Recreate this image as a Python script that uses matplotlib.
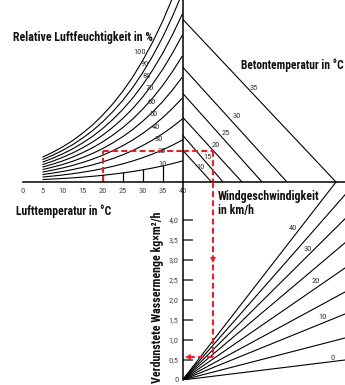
import numpy as np
import matplotlib
matplotlib.use("Agg")
import matplotlib.pyplot as plt
from matplotlib import font_manager as fm
from matplotlib.font_manager import FontProperties

# ---------------- data ----------------
luft_temp = [5, 7.5, 10, 12.5, 15, 17.5, 20, 22.5, 25, 27.5, 30, 32.5, 35, 37.5, 40]
saett_druck = [0.87, 1.04, 1.23, 1.45, 1.71, 2.00, 2.34, 2.73, 3.17, 3.67, 4.25, 4.90, 5.63, 6.46, 7.38]
rel_feuchte = [10, 20, 30, 40, 50, 60, 70, 80, 90, 100]
luft_ticks = [0, 5, 10, 15, 20, 25, 30, 35, 40]
marker_temps = [20, 25, 30, 35]

beton_temp = [10, 15, 20, 25, 30, 35]
beton_druck = [1.12, 1.65, 2.28, 3.12, 4.04, 5.72]
beton_diff = [1.16, 1.62, 2.38, 3.18, 4.18, 6.14]

wind = [0, 5, 10, 15, 20, 25, 30, 35, 40]
wind_diff_end = 6.5
verdunst_end = [0.50, 1.05, 1.65, 2.20, 2.80, 3.43, 4.03, 4.63, 5.24]
wind_beschriftet = [0, 10, 20, 30, 40]

verdunst_ticks = [0, 0.5, 1.0, 1.5, 2.0, 2.5, 3.0, 3.5, 4.0]
verdunst_labels = ["0", "0,5", "1,0", "1,5", "2,0", "2,5", "3,0", "3,5", "4,0"]

bsp_luft = 20
bsp_druck = 1.10
bsp_diff = 1.23
bsp_verdunst = 0.58

# ---------------- layout (text placement) ----------------
rh_label_pos = [(35.1, 0.63), (34.9, 1.09), (34.1, 1.51), (33.4, 1.93), (32.9, 2.39),
                (32.4, 2.81), (31.9, 3.30), (31.1, 3.72), (30.6, 4.14), (29.4, 4.56)]
beton_label_pos = [(0.74, 0.53), (0.98, 0.88), (1.34, 1.30), (1.74, 1.72), (2.18, 2.32), (2.86, 3.30)]
wind_label_pos = [(6.02, 0.55), (5.62, 1.58), (5.34, 2.48), (5.02, 3.28), (4.42, 3.80)]


def find_font(bold):
    best = None
    for f in fm.fontManager.ttflist:
        if f.style != "normal":
            continue
        w = f.weight
        if isinstance(w, str):
            w = {"bold": 700, "normal": 400, "regular": 400}.get(w.lower(), 400)
        if bold and w != 700:
            continue
        if not bold and w != 400:
            continue
        name = f.name
        st = str(f.stretch).lower()
        narrow = ("narrow" in name.lower() or "condensed" in name.lower()
                  or "condensed" in st or "narrow" in f.fname.lower()
                  or "condensed" in f.fname.lower())
        if not narrow or "semi" in f.fname.lower() or "extra" in f.fname.lower():
            continue
        rank = 9
        if "Liberation Sans Narrow" in name:
            rank = 0
        elif "Roboto" in name:
            rank = 1
        elif "Noto Sans" in name and "CJK" not in name:
            rank = 2
        elif "DejaVu" in name:
            rank = 3
        elif "Open Sans" in name:
            rank = 4
        if best is None or rank < best[0]:
            best = (rank, f.fname)
    return best[1] if best else None


bold_path = find_font(True)
reg_path = find_font(False)
fp_bold = FontProperties(fname=bold_path) if bold_path else FontProperties(family="DejaVu Sans", weight="bold")
fp_reg = FontProperties(fname=reg_path) if reg_path else FontProperties(family="DejaVu Sans")

W, H = 345, 385
fig = plt.figure(figsize=(W / 100, H / 100), dpi=100)
plt.rcParams["lines.scale_dashes"] = False

px_per_T = 4.0
px_per_p = 28.5
px_per_d = 25.0
px_per_E = 40.0
x_axis_px = 182.5
h_axis_px = 182.0
e0_px = 380.0
lab_size = 6.0


def fr(l, t, w, h):
    return [l / W, 1 - (t + h) / H, w / W, h / H]


ax_ul = fig.add_axes(fr(x_axis_px - 40 * px_per_T, 0, 40 * px_per_T, h_axis_px))
ax_ur = fig.add_axes(fr(x_axis_px, 0, W - x_axis_px, h_axis_px))
ax_lo = fig.add_axes(fr(x_axis_px, h_axis_px, W - x_axis_px, e0_px - h_axis_px))

ax_ul.set_xlim(0, 40)
ax_ul.set_ylim(0, h_axis_px / px_per_p)
ax_ur.set_xlim(0, (W - x_axis_px) / px_per_d)
ax_ur.set_ylim(0, h_axis_px / px_per_p)
ax_lo.set_xlim(0, (W - x_axis_px) / px_per_d)
ax_lo.set_ylim(0, (e0_px - h_axis_px) / px_per_E)

for ax in (ax_ul, ax_ur, ax_lo):
    ax.patch.set_alpha(0)
    for s in ax.spines.values():
        s.set_visible(False)
    ax.set_xticks([])
    ax.set_yticks([])

axis_lw = 1.1
line_lw = 0.8
ax_ul.spines["bottom"].set_visible(True)
ax_ul.spines["bottom"].set_linewidth(axis_lw)
ax_ur.spines["bottom"].set_visible(True)
ax_ur.spines["bottom"].set_linewidth(axis_lw)
ax_ur.spines["left"].set_visible(True)
ax_ur.spines["left"].set_linewidth(axis_lw)
ax_lo.spines["left"].set_visible(True)
ax_lo.spines["left"].set_linewidth(axis_lw)

# upper-left: relative humidity curves
T = np.array(luft_temp)
ps = np.array(saett_druck)
for rh in rel_feuchte:
    ax_ul.plot(T, ps * rh / 100.0, color="black", lw=line_lw, solid_capstyle="butt")
for rh, (lx, ly) in zip(rel_feuchte, rh_label_pos):
    ax_ul.text(lx, ly, str(rh), fontproperties=fp_reg, fontsize=lab_size, color="#333333",
               ha="center", va="center")
for mt in marker_temps:
    ax_ul.plot([mt, mt], [0, np.interp(mt, T, ps) * rel_feuchte[0] / 100.0], color="black", lw=0.9)
ax_ul.set_xticks(luft_ticks)
ax_ul.set_xticklabels([str(v) for v in luft_ticks], fontproperties=fp_reg, fontsize=lab_size, color="#444444")
ax_ul.tick_params(axis="x", length=0, pad=4.5)

# upper-right: concrete temperature lines
for bt, y0, x0 in zip(beton_temp, beton_druck, beton_diff):
    ax_ur.plot([0, x0], [y0, 0], color="black", lw=line_lw)
for bt, (lx, ly) in zip(beton_temp, beton_label_pos):
    ax_ur.text(lx, ly, str(bt), fontproperties=fp_reg, fontsize=lab_size, color="#333333",
               ha="center", va="center")

# lower: wind lines
for v, e in zip(wind, verdunst_end):
    ax_lo.plot([0, wind_diff_end], [0, e], color="black", lw=line_lw)
for v, (lx, ly) in zip(wind_beschriftet, wind_label_pos):
    ax_lo.text(lx, ly, str(v), fontproperties=fp_reg, fontsize=lab_size, color="#333333",
               ha="center", va="center")
ax_lo.set_yticks(verdunst_ticks)
ax_lo.set_yticklabels(verdunst_labels, fontproperties=fp_reg, fontsize=lab_size, color="#444444")
ax_lo.tick_params(axis="y", direction="in", length=7.5, width=1.3, color="#555555", pad=3)
ax_lo.yaxis.get_major_ticks()[0].tick1line.set_visible(False)

# red example path
red = "#e3202b"
dash = (4.2, 2.4)
rkw = dict(color=red, lw=1.5, dashes=dash, clip_on=False)
ax_ul.plot([bsp_luft, bsp_luft], [0, bsp_druck], **rkw)
ax_ul.plot([bsp_luft, 40], [bsp_druck, bsp_druck], **rkw)
ax_ur.plot([0, bsp_diff], [bsp_druck, bsp_druck], **rkw)
ax_ur.plot([bsp_diff, bsp_diff], [bsp_druck, 0], **rkw)
ax_lo.plot([bsp_diff, bsp_diff], [ax_lo.get_ylim()[1], bsp_verdunst], **rkw)
ax_lo.plot([bsp_diff, 0.2], [bsp_verdunst, bsp_verdunst], **rkw)
ax_lo.plot([bsp_diff], [3.0], marker="v", ms=4.5, color=red, mew=0)
ax_lo.plot([0.2], [bsp_verdunst], marker="<", ms=4.5, color=red, mew=0)

# titles (fitted to measured widths)
fig.canvas.draw()
renderer = fig.canvas.get_renderer()


def title(txt, x, y, width, ha="left", rotation=0, size=8.0):
    t = fig.text(x / W, 1 - y / H, txt, fontproperties=fp_bold, fontsize=size,
                 ha=ha, va="center", color="#111111")
    bb = t.get_window_extent(renderer)
    t.set_fontsize(size * width / bb.width)
    t.set_rotation(rotation)
    return t


title("Relative Luftfeuchtigkeit in %", 13, 37.5, 139)
title("Betontemperatur in °C", 241, 65, 103)
title("Lufttemperatur in °C", 16, 211.5, 95)
tw = title("Windgeschwindigkeit", 218, 197, 101)
fig.text(218 / W, 1 - 210.5 / H, "in km/h", fontproperties=fp_bold, fontsize=tw.get_fontsize(),
         ha="left", va="center", color="#111111")
title("Verdunstete Wassermenge kg×m²/h", 157, 297.5, 171, ha="center", rotation=90)

fig.savefig("out.png", dpi=100)
